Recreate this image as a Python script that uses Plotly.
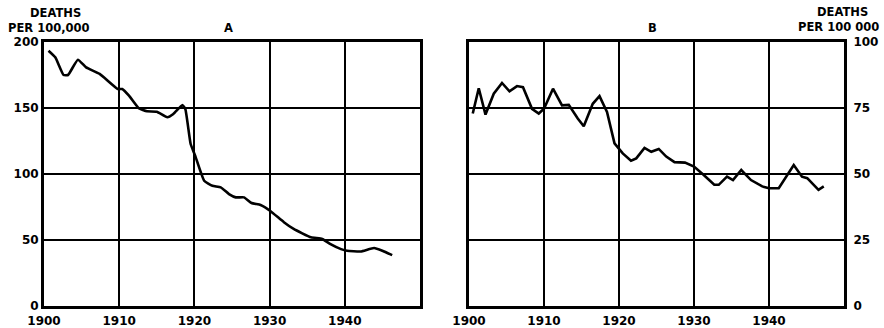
import plotly.graph_objects as go

# Panel A: deaths per 100,000 (traced)
years_a = [1900.6, 1901.5, 1902.6, 1903.2, 1904.5, 1905.6, 1907.4, 1909.8, 1910.4, 1911.3,
           1912.6, 1913.7, 1915.0, 1916.4, 1917.2, 1918.4, 1918.8, 1919.5, 1920.1, 1921.3,
           1922.4, 1923.5, 1924.6, 1925.5, 1926.6, 1927.6, 1928.8, 1930.1, 1931.9, 1933.2,
           1935.5, 1937.0, 1938.1, 1939.5, 1940.3, 1942.1, 1943.9, 1945.0, 1946.3]
values_a = [193.4, 188.4, 175.0, 175.0, 186.6, 180.8, 175.8, 164.4, 164.4, 159.3,
            149.8, 147.5, 147.2, 143.0, 145.5, 152.3, 149.0, 122.7, 113.9, 94.9,
            91.1, 89.9, 84.8, 82.3, 82.3, 78.0, 76.5, 72.0, 63.5, 58.4,
            52.0, 50.8, 46.9, 43.1, 41.8, 41.3, 43.9, 41.8, 38.5]

# Panel B: deaths per 100 000 (traced)
years_b = [1900.5, 1901.3, 1902.2, 1903.3, 1904.4, 1905.4, 1906.4, 1907.2, 1908.4, 1909.3,
           1910.0, 1911.2, 1912.4, 1913.3, 1914.5, 1915.3, 1916.5, 1917.4, 1918.4, 1919.4,
           1920.5, 1921.6, 1922.3, 1923.4, 1924.3, 1925.3, 1926.3, 1927.4, 1928.8, 1930.0,
           1931.3, 1932.7, 1933.3, 1934.4, 1935.2, 1936.3, 1937.6, 1939.1, 1940.0, 1941.3,
           1943.3, 1944.4, 1945.1, 1946.6, 1947.3]
values_b = [72.9, 82.5, 72.5, 80.4, 84.5, 81.3, 83.3, 82.9, 74.7, 72.9,
            74.7, 82.3, 76.0, 76.2, 71.0, 68.1, 76.6, 79.5, 73.5, 61.6,
            57.8, 55.0, 55.9, 59.9, 58.4, 59.5, 56.6, 54.5, 54.3, 52.8,
            49.6, 45.9, 45.9, 49.0, 47.7, 51.5, 47.7, 45.3, 44.6, 44.6,
            53.4, 49.0, 48.4, 44.0, 45.3]

x_ticks = [1900, 1910, 1920, 1930, 1940]
y_ticks_a = [0, 50, 100, 150, 200]
y_ticks_b = [0, 25, 50, 75, 100]

FONT = dict(family="DejaVu Sans", size=12, color="black", weight="bold")

fig = go.Figure()
fig.add_trace(go.Scatter(x=years_a, y=values_a, mode="lines", xaxis="x", yaxis="y",
                         line=dict(color="black", width=2.6, shape="spline", smoothing=0.4),
                         showlegend=False))
fig.add_trace(go.Scatter(x=years_b, y=values_b, mode="lines", xaxis="x2", yaxis="y2",
                         line=dict(color="black", width=2.6),
                         showlegend=False))

axis_common = dict(showgrid=True, gridcolor="black", gridwidth=1.8, zeroline=False,
                   showline=True, linecolor="black", linewidth=3, mirror=True,
                   ticks="", tickfont=FONT, automargin=False)

fig.update_layout(
    width=884, height=328,
    margin=dict(l=0, r=0, t=42, b=22),
    paper_bgcolor="white", plot_bgcolor="white",
    font=FONT,
    xaxis=dict(domain=[44/884, 420/884], range=[1900, 1950], tickvals=x_ticks,
               ticktext=[str(v) for v in x_ticks], anchor="y", ticklabelstandoff=2,
               **axis_common),
    yaxis=dict(domain=[0, 1], range=[0, 200], tickvals=y_ticks_a, anchor="x", **axis_common),
    xaxis2=dict(domain=[469/884, 844/884], range=[1900, 1950], tickvals=x_ticks,
                ticktext=[str(v) for v in x_ticks], anchor="y2", ticklabelstandoff=2,
                **axis_common),
    yaxis2=dict(domain=[0, 1], range=[0, 100], tickvals=y_ticks_b, anchor="x2",
                side="right", ticklabelstandoff=4, **axis_common),
)

def py(p):
    return (306 - p) / 264

ann_font = dict(family="DejaVu Sans", size=11.5, color="black", weight="bold")
anns = [
    ("DEATHS", 55, 13),
    ("PER 100,000", 49, 28),
    ("A", 228, 28),
    ("B", 652, 28),
    ("DEATHS", 842, 12),
    ("PER 100 000", 838, 27),
]
for text, x, y in anns:
    fig.add_annotation(text=text, x=x/884, y=py(y), xref="paper", yref="paper",
                       showarrow=False, xanchor="center", yanchor="middle",
                       borderpad=0, font=ann_font)

fig.write_html("out.html", config={"displayModeBar": False},
               post_script="document.body.style.margin='0';")
